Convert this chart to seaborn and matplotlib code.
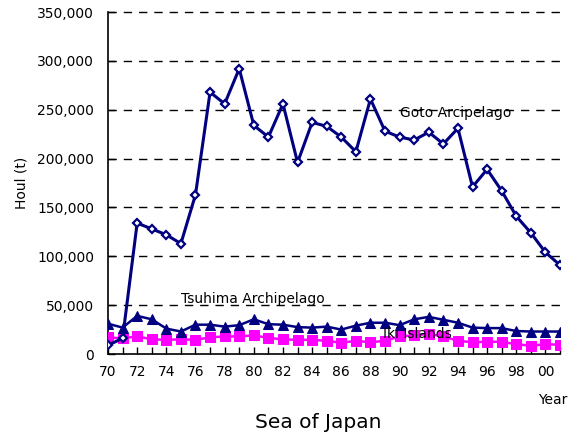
import matplotlib
matplotlib.use("Agg")
import matplotlib.pyplot as plt
import seaborn as sns
import numpy as np
import pandas as pd
from matplotlib.ticker import FuncFormatter, MultipleLocator

years = list(range(1970, 2002))
goto = [9000, 16000, 134000, 128000, 122000, 113000, 163000, 268000, 256000, 292000,
        234000, 222000, 256000, 196000, 237000, 233000, 222000, 207000, 261000, 228000,
        222000, 219000, 227000, 215000, 231000, 171000, 189000, 167000, 141000, 124000,
        104000, 91000]
tsushima = [31000, 27000, 39000, 35500, 26000, 23000, 30000, 30000, 28000, 29500,
            35500, 30500, 30000, 27500, 27000, 28000, 25000, 29000, 32000, 32000,
            29500, 35500, 38000, 35000, 32000, 27000, 26500, 26500, 23500, 23000,
            23000, 23000]
iki = [17000, 16000, 18000, 15000, 14500, 15000, 14500, 17000, 18000, 18000,
       19000, 16500, 15000, 14500, 14500, 13500, 11500, 13500, 12000, 13500,
       18000, 19000, 20500, 18000, 13500, 12000, 12500, 12500, 10000, 8500,
       10000, 9500]
yticks = list(range(0, 350001, 50000))
xtick_years = list(range(1970, 2001, 2))

sns.set_style("white")
plt.rcParams['font.family'] = ['DejaVu Sans']
plt.rcParams['text.color'] = 'black'
plt.rcParams['axes.labelcolor'] = 'black'
plt.rcParams['xtick.color'] = 'black'
plt.rcParams['ytick.color'] = 'black'

fig = plt.figure(figsize=(5.78, 4.38), dpi=100)
ax = fig.add_axes([108/578, 1-354/438, (560-108)/578, (354-12)/438])

navy = "#000080"
mag = "#FF00FF"

sns.lineplot(x=years, y=iki, ax=ax, color=mag, lw=1.8, marker="s", markersize=6.5,
             markeredgecolor=mag, markerfacecolor=mag, zorder=3)
sns.lineplot(x=years, y=tsushima, ax=ax, color=navy, lw=1.8, marker="^", markersize=7.5,
             markeredgecolor=navy, markerfacecolor=navy, zorder=4)
sns.lineplot(x=years, y=goto, ax=ax, color=navy, lw=2.2, marker="D", markersize=4.5,
             markeredgecolor=navy, markerfacecolor="white", markeredgewidth=1.6, zorder=5)

ax.set_xlim(1970, 2001)
ax.set_ylim(0, 350000)
ax.set_yticks(yticks)
ax.yaxis.set_major_formatter(FuncFormatter(lambda v, p: f"{int(v):,}"))
ax.set_xticks(xtick_years)
ax.set_xticklabels([f"{y % 100:02d}" for y in xtick_years])
ax.xaxis.set_minor_locator(MultipleLocator(1))
ax.tick_params(axis="x", which="both", direction="in", length=5, width=1, color="black",
               labelcolor="black", bottom=True, labelsize=10, pad=8)
ax.tick_params(axis="y", which="both", direction="in", length=5, width=1, color="black",
               labelcolor="black", left=True, labelsize=10, pad=10)
for sp in ["top", "right"]:
    ax.spines[sp].set_visible(False)
for sp in ["left", "bottom"]:
    ax.spines[sp].set_color("black")
    ax.spines[sp].set_linewidth(1.2)

for v in yticks[1:]:
    ax.axhline(v, color="black", lw=1, ls=(0, (6, 5)), zorder=1, clip_on=False)

ax.set_ylabel("Houl (t)", fontsize=10, labelpad=6, color="black")
ax.set_xlabel("")

fig.text(400/578, 1-113/438, "Goto Arcipelago", fontsize=10, va="center", ha="left", color="black")
fig.text(181/578, 1-299/438, "Tsuhima Archipelago", fontsize=10, va="center", ha="left", color="black")
fig.text(383/578, 1-334/438, "Iki Islands", fontsize=10, va="center", ha="left", zorder=10, color="black")
fig.text(553/578, 1-400/438, "Year", fontsize=10, va="center", ha="center", color="black")
fig.text(318/578, 1-423/438, "Sea of Japan", fontsize=14.5, va="center", ha="center", color="black")

fig.savefig("out.png", dpi=100)
